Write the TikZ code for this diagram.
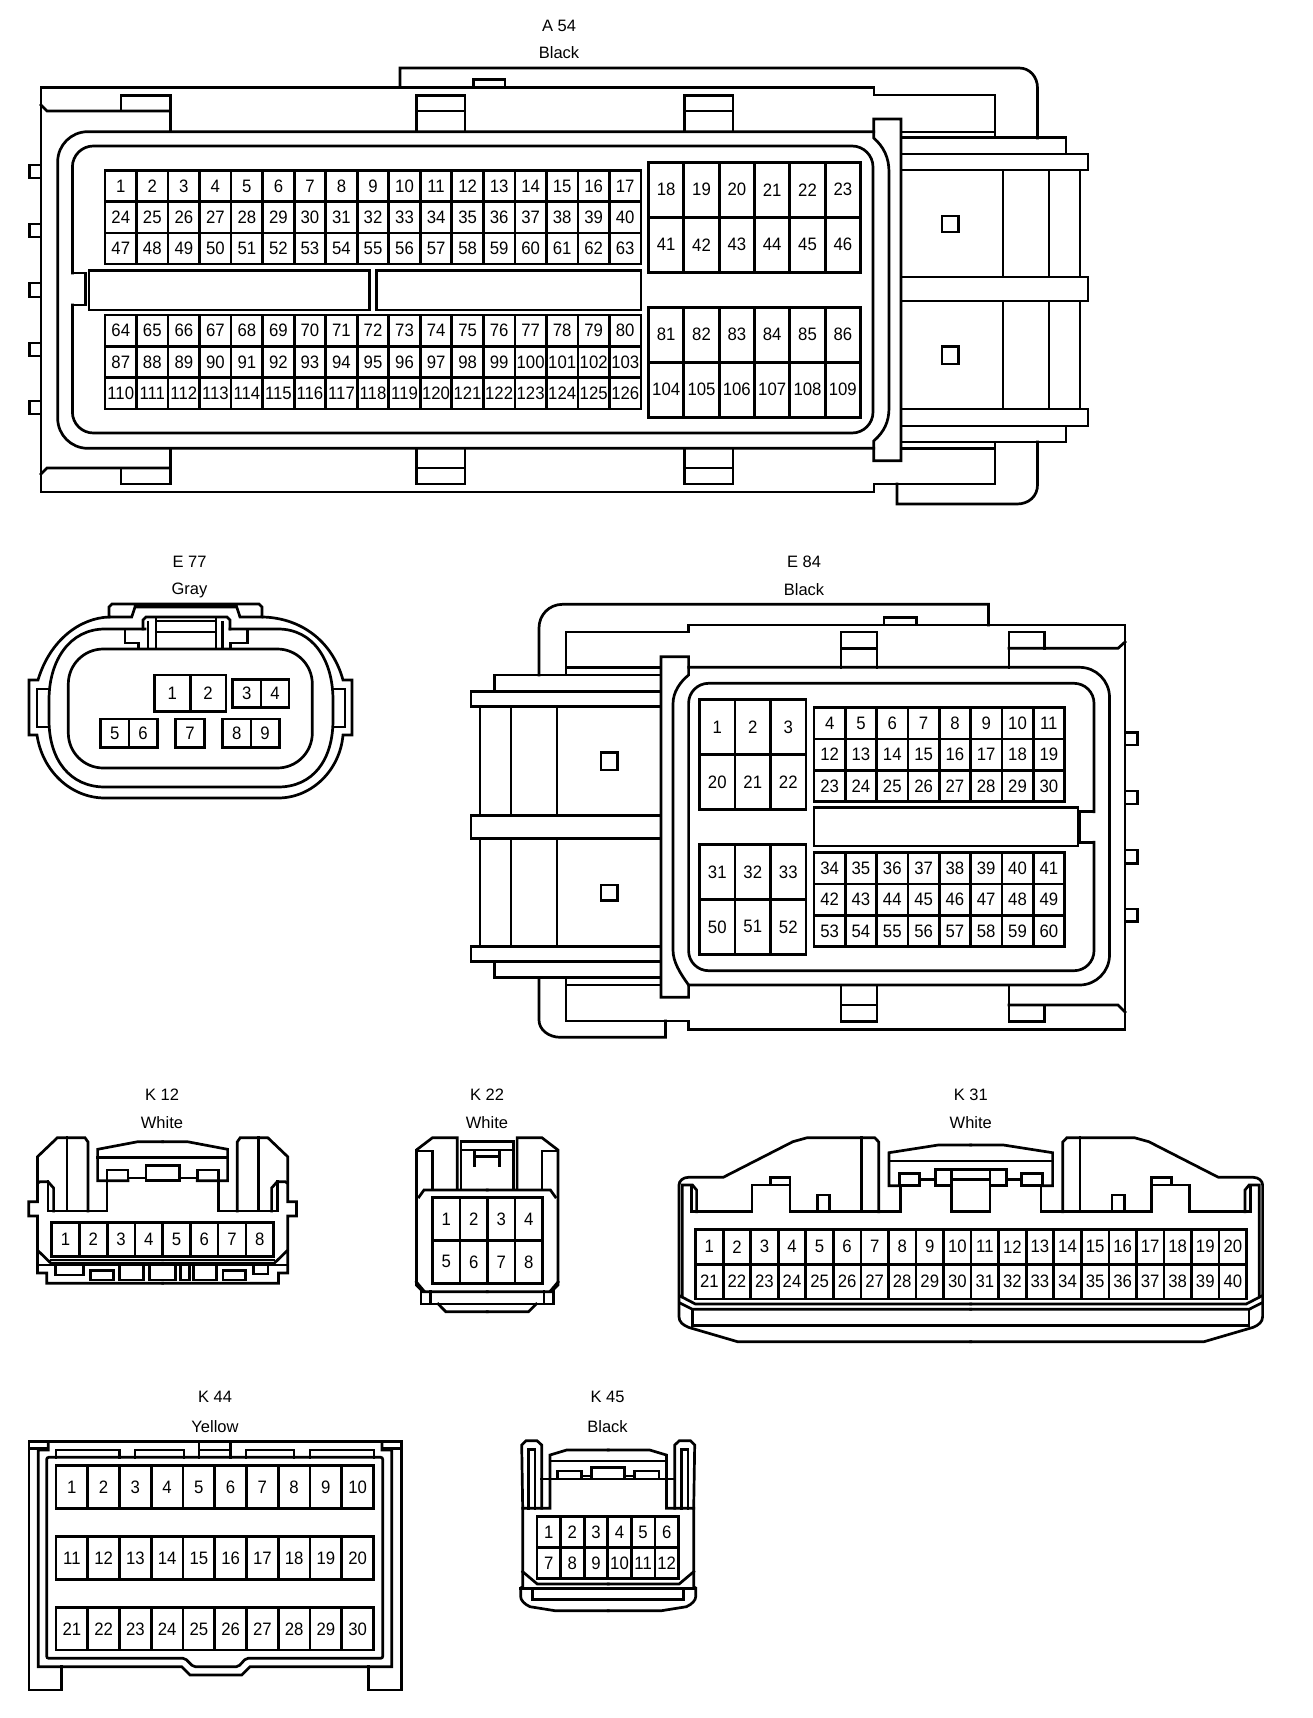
\documentclass[tikz,border=0pt]{standalone}
\usepackage{fontspec}
\setmainfont{Liberation Sans}
\newfontfamily\pinfont[FakeStretch=0.93]{Liberation Sans}
\tikzset{
  ln/.style={line width=2.7pt,line join=miter,line cap=rect,black},
  pin/.style={inner sep=0pt,font=\pinfont\fontsize{18}{18}\selectfont,text=black},
  lbl/.style={inner sep=0pt,font=\fontsize{16.5}{17}\selectfont,text=black}
}
\newcommand{\pinblock}[8]{%
  \draw[ln] (#2,#3) rectangle (#4,#5);
  \pgfmathsetmacro\cw{(#4-#2)/#6}
  \pgfmathsetmacro\ch{(#5-#3)/#7}
  \foreach \i in {1,...,#6}{\draw[ln] ({#2+\i*\cw},#3) -- ({#2+\i*\cw},#5);}
  \foreach \i in {1,...,#7}{\draw[ln] (#2,{#3+\i*\ch}) -- (#4,{#3+\i*\ch});}
  \foreach \s [count=\r from 0] in {#8}{
    \foreach \c in {1,...,#6}{
      \pgfmathtruncatemacro\n{\s+\c-1}
      \node[pin,name=#1-\n] at ({#2+(\c-.5)*\cw},{#3+(\r+.5)*\ch}) {\n};
    }
  }
}
\newcommand{\mirrored}[2]{#2\begin{scope}[shift={(#1,0)},xscale=-1]#2\end{scope}}
\newcommand{\boxes}[1]{\foreach \a/\b/\c/\d in {#1}{\draw[ln] (\a,\b) rectangle (\c,\d);}}
\begin{document}
\begin{tikzpicture}[x=1pt,y=-1pt]
\useasboundingbox (0,0) rectangle (1312,1718);
% ---------- A54
\node[lbl] (a54t) at (559,25.7) {A 54};
\node[lbl] (a54c) at (559,52.7) {Black};
\draw[ln] (400,87) -- (400,68) -- (1019,68) .. controls (1030,68) and (1037.5,77) .. (1037.5,88) -- (1037.5,138);
\draw[ln] (473.5,87) -- (473.5,79.3) -- (505,79.3) -- (505,87);
\draw[ln] (995,137) -- (995,95) -- (874,95) -- (874,87.3) -- (41,87.3) -- (41,492) -- (874,492) -- (874,484) -- (995,484) -- (995,442);
\draw[ln] (41,105) -- (47,111) -- (170.5,111);
\draw[ln] (41,474) -- (47,468) -- (170.5,468);
\draw[ln] (121,111) -- (121,95.7) -- (170.5,95.7) -- (170.5,131.7);
\draw[ln] (121,468) -- (121,484) -- (170.5,484) -- (170.5,448.3);
\foreach \xa/\xb in {416.7/465,684.6/733}{
  \draw[ln] (\xa,131.7) -- (\xa,95.7) -- (\xb,95.7) -- (\xb,131.7);
  \draw[ln] (\xa,111) -- (\xb,111);
  \draw[ln] (\xa,448.3) -- (\xa,484) -- (\xb,484) -- (\xb,448.3);
  \draw[ln] (\xa,468) -- (\xb,468);
}
\draw[ln,rounded corners=30pt] (873.7,131.7) -- (57.7,131.7) -- (57.7,448.3) -- (873.7,448.3);
\draw[ln,rounded corners=21pt] (72.4,273) -- (72.4,146) -- (873,146) -- (873,433) -- (72.4,433) -- (72.4,305);
\draw[ln] (72.4,273) -- (85.4,273) -- (85.4,305) -- (72.4,305);
\draw[ln] (901,119) -- (873.7,119) -- (873.7,138) .. controls (884,147) and (889,158) .. (889,172) -- (889,408) .. controls (889,422) and (884,432) .. (873.7,441) -- (873.7,460.7) -- (901,460.7) -- cycle;
\draw[ln] (901,132) -- (995,132);
\draw[ln] (901,448.3) -- (995,448.3);
\draw[ln] (901,137.3) -- (1066,137.3) -- (1066,154);
\draw[ln] (901,442) -- (1066,442) -- (1066,426);
\foreach \ya/\yb in {154/170,277/301,409/426}{\draw[ln] (901,\ya) -- (1088,\ya) -- (1088,\yb) -- (901,\yb);}
\draw[ln] (1037.5,442) -- (1037.5,485) .. controls (1037.5,496) and (1029,504) .. (1017,504) -- (897,504) -- (897,484);
\foreach \x in {1003,1049,1080}{\draw[ln] (\x,170) -- (\x,277);\draw[ln] (\x,301) -- (\x,409);}
\boxes{942/216/958.5/232,942/346.7/958.5/364,29.5/165/41/178,29.5/224/41/237,29.5/283/41/297,29.5/343/41/356,29.5/401/41/414,89/270.7/369.5/310,376.7/270.7/641/310}
\pinblock{a54}{105}{170.7}{641}{264}{17}{3}{1,24,47}
\pinblock{a54}{648.5}{162.3}{860.5}{272.3}{6}{2}{18,41}
\pinblock{a54}{105}{315}{641}{409}{17}{3}{64,87,110}
\pinblock{a54}{648.5}{307.3}{860.5}{417.3}{6}{2}{81,104}
% ---------- E77
\node[lbl] (e77t) at (189.5,562) {E 77};
\node[lbl] (e77c) at (189.5,590) {Gray};
\draw[ln] (109,617) .. controls (80,618) and (50,640) .. (38,680) -- (29,680) -- (29,735) -- (37,735) .. controls (42,770) and (70,798) .. (105,798) -- (278,798) .. controls (312,798) and (340,770) .. (343,735) -- (352,735) -- (352,680) -- (343,680) .. controls (332,640) and (300,618) .. (263,617);
\draw[ln] (109,617) -- (109,607) -- (112,604) -- (259,604) -- (262,607) -- (262,617) -- (240,617) -- (236.7,607) -- (135,607) -- (131.7,617) -- cycle;
\draw[ln] (145,629) -- (105,629) .. controls (70,629) and (49,660) .. (49,700) -- (49,720) .. controls (49,760) and (70,787) .. (105,787) -- (278,787) .. controls (313,787) and (333,760) .. (333,720) -- (333,700) .. controls (333,660) and (313,629) .. (278,629) -- (230,629);
\draw[ln,rounded corners=35pt] (68.3,649) rectangle (312.3,768);
\draw[ln] (49,689) -- (37,689) -- (37,727) -- (49,727);
\draw[ln] (333,689) -- (345,689) -- (345,727) -- (333,727);
\draw[ln] (143,629) -- (143,620) -- (146,617) -- (227,617) -- (230,620) -- (230,629);
\draw[ln] (156,617) -- (156,649);\draw[ln] (216,617) -- (216,649);
\draw[ln] (148,622) -- (148,649);\draw[ln] (222.7,622) -- (222.7,649);
\draw[ln] (156,621) -- (216,621);\draw[ln] (156,632) -- (216,632);
\draw[ln] (125,631) -- (125,643) -- (138.3,643) -- (138.3,649);
\draw[ln] (247.7,631) -- (247.7,643) -- (230.7,643) -- (230.7,649);
\pinblock{e77}{154.3}{675}{226}{711.7}{2}{1}{1}
\pinblock{e77}{232.7}{679.3}{289}{707.7}{2}{1}{3}
\pinblock{e77}{100.7}{719}{157.3}{747.7}{2}{1}{5}
\pinblock{e77}{175.7}{719}{204.3}{747.7}{1}{1}{7}
\pinblock{e77}{222.7}{719}{279.3}{747.7}{2}{1}{8}
% ---------- E84
\node[lbl] (e84t) at (804,562) {E 84};
\node[lbl] (e84c) at (804,590) {Black};
\draw[ln] (988.5,625) -- (988.5,604.3) -- (562.7,604.3) .. controls (549,604.3) and (539,615) .. (539,628) -- (539,675);
\draw[ln] (884,625) -- (884,617.3) -- (916.6,617.3) -- (916.6,625);
\draw[ln] (566,675) -- (566,632) -- (688.6,632) -- (688.6,625) -- (1125,625) -- (1125,1029.3) -- (688.6,1029.3) -- (688.6,1021) -- (566,1021) -- (566,979.3);
\draw[ln] (1009,648.3) -- (1118,648.3) -- (1125,642);
\draw[ln] (1009,1005) -- (1118,1005) -- (1125,1012);
\draw[ln] (841,667.3) -- (841,632) -- (877,632) -- (877,667.3);\draw[ln] (841,648.3) -- (877,648.3);
\draw[ln] (841,985) -- (841,1021.7) -- (877,1021.7) -- (877,985);\draw[ln] (841,1005) -- (877,1005);
\draw[ln] (1009,667.3) -- (1009,632) -- (1044.7,632) -- (1044.7,648.3);
\draw[ln] (1009,985) -- (1009,1021.7) -- (1044.7,1021.7) -- (1044.7,1005);
\draw[ln] (539,979) -- (539,1020) .. controls (539,1030) and (549,1037.3) .. (560.4,1037.3) -- (665.4,1037.3) -- (665.4,1021);
\draw[ln,rounded corners=30pt] (688.6,667.3) -- (1109.5,667.3) -- (1109.5,985) -- (688.6,985);
\draw[ln,rounded corners=20pt] (1094,811.7) -- (1094,683.3) -- (688.6,683.3) -- (688.6,970.7) -- (1094,970.7) -- (1094,842.3);
\draw[ln] (1094,811.7) -- (1079.5,811.7) -- (1079.5,842.3) -- (1094,842.3);
\draw[ln] (661,656.7) -- (688.6,656.7) -- (688.6,675) .. controls (680,682) and (673,692) .. (673,704) -- (673,950) .. controls (673,962) and (680,973) .. (688.6,985) -- (688.6,997.3) -- (661,997.3) -- cycle;
\draw[ln] (566,667.3) -- (661,667.3);\draw[ln] (566,985) -- (661,985);
\draw[ln] (661,675) -- (494.8,675) -- (494.8,691.7);
\draw[ln] (661,977.3) -- (494.8,977.3) -- (494.8,961.7);
\foreach \ya/\yb in {691.7/706.7,815.7/838.3,946.7/961.7}{\draw[ln] (661,\ya) -- (471,\ya) -- (471,\yb) -- (661,\yb);}
\foreach \x in {480,511,557}{\draw[ln] (\x,706.7) -- (\x,815.7);\draw[ln] (\x,838.3) -- (\x,946.7);}
\boxes{601/752.7/617.5/770,601/885/617.5/900.7,1125/732.3/1137.7/745,1125/791/1137.7/804,1125/850/1137.7/863.3,1125/909/1137.7/921.7,814/807.3/1078/846}
\pinblock{e84}{699.5}{699.3}{806}{809.3}{3}{2}{1,20}
\pinblock{e84}{814}{707.7}{1064.5}{801.7}{8}{3}{4,12,23}
\pinblock{e84}{699.5}{844.3}{806}{954.3}{3}{2}{31,50}
\pinblock{e84}{814}{852.7}{1064.5}{946.7}{8}{3}{34,42,53}
% ---------- K12
\node[lbl] (k12t) at (162,1095) {K 12};
\node[lbl] (k12c) at (162,1123) {White};
\mirrored{325.2}{
  \draw[ln] (88,1211) -- (88,1142) -- (85,1137.7) -- (57.4,1137.7) -- (37.5,1156.7) -- (37.5,1201.7) -- (28.7,1201.7) -- (28.7,1216) -- (37.5,1216) -- (37.5,1273) -- (46.7,1273) -- (46.7,1283.3) -- (162.6,1283.3);
  \draw[ln] (67,1137.7) -- (67,1211);
  \draw[ln] (38,1183) -- (40,1181.7) -- (48,1181.7) -- (53.6,1188) -- (53.6,1211);
  \draw[ln] (48,1181.7) -- (48,1211) -- (107,1211) -- (107,1170) -- (128,1170) -- (128,1180.7);
  \draw[ln] (162.6,1141.7) -- (137.8,1141.7) -- (97.6,1149.3) -- (97.6,1180.7) -- (128,1180.7);
  \draw[ln] (146,1180.7) -- (162.6,1180.7);
  \draw[ln] (97.6,1157.7) -- (162.6,1157.7);
  \draw[ln] (146,1180.7) -- (146,1165.3) -- (162.6,1165.3);
  \draw[ln] (128,1178) -- (146,1178);
  \draw[ln] (38,1250.7) -- (51,1263.3) -- (162.6,1263.3);
  \draw[ln] (51.7,1260) -- (162.6,1260);
  \draw[ln] (37.5,1265) -- (162.6,1265);
}
\draw[ln] (55.5,1266) -- (55.5,1275) -- (83.4,1275) -- (83.4,1266);
\draw[ln] (119.8,1266) -- (119.8,1280) -- (143.5,1280) -- (143.5,1266);
\draw[ln] (149.3,1266) -- (149.3,1280) -- (175.3,1280) -- (175.3,1266);
\draw[ln] (180.6,1266) -- (180.6,1280) -- (189.4,1280) -- (189.4,1266);
\draw[ln] (193.3,1266) -- (193.3,1280) -- (216.2,1280) -- (216.2,1266);
\draw[ln] (253.3,1266) -- (253.3,1274) -- (267.9,1274) -- (267.9,1266);
\boxes{90.7/1270.7/113.7/1280,223/1270.7/245.7/1280}
\pinblock{k12}{51.7}{1222.3}{273.6}{1256.7}{8}{1}{1}
% ---------- K22
\node[lbl] (k22t) at (487,1095) {K 22};
\node[lbl] (k22c) at (487,1123) {White};
\mirrored{974.4}{
  \draw[ln] (457.3,1189) -- (457.3,1137.7) -- (432.5,1137.7) -- (416.4,1150) -- (416.4,1285) -- (423,1291.7) -- (487.2,1291.7);
  \draw[ln] (416.4,1151) -- (432.5,1151) -- (432.5,1189);
  \draw[ln] (419,1197) -- (424,1190) -- (487.2,1190);
  \draw[ln] (416.4,1282) -- (424,1291);
  \draw[ln] (461,1189) -- (461,1141.7) -- (487.2,1141.7);
  \draw[ln] (461,1150) -- (487.2,1150);
  \draw[ln] (474.6,1151) -- (474.6,1166);
  \draw[ln] (474.6,1156.7) -- (487.2,1156.7);
  \draw[ln] (421,1291.7) -- (421,1304) -- (487.2,1304);
  \draw[ln] (430.5,1291.7) -- (430.5,1304);
  \draw[ln] (438.2,1304) -- (445.8,1311.7) -- (487.2,1311.7);
}
\pinblock{k22}{432.5}{1197.3}{542.4}{1283.3}{4}{2}{1,5}
% ---------- K31
\node[lbl] (k31t) at (970.8,1095) {K 31};
\node[lbl] (k31c) at (970.8,1123) {White};
\mirrored{1941.6}{
  \draw[ln] (970.8,1341.7) -- (737.6,1341.7) -- (688.4,1327.3) .. controls (683,1325) and (679,1322) .. (679,1316.7) -- (679,1185) .. controls (679,1181) and (683,1177.3) .. (688.4,1177.3) -- (723.2,1177.3) -- (792.8,1141.7) -- (807.2,1137.7) -- (874.7,1137.7) -- (878.8,1142) -- (878.8,1211.7);
  \draw[ln] (861.6,1137.7) -- (861.6,1211.7);
  \draw[ln] (682.3,1296.7) -- (682.3,1185) -- (692.5,1185) -- (696.6,1190) -- (696.6,1211.7);
  \draw[ln] (691.3,1187) -- (691.3,1211.7) -- (751.9,1211.7) -- (751.9,1185) -- (790,1185) -- (790,1211.7) -- (900.5,1211.7) -- (900.5,1185);
  \draw[ln] (770.3,1185) -- (770.3,1177.3) -- (790,1177.3) -- (790,1185);
  \draw[ln] (817.4,1211.7) -- (817.4,1195) -- (829.7,1195) -- (829.7,1211.7);
  \draw[ln] (970.8,1145) -- (938.2,1145) -- (889,1152.7) -- (889,1185.7) -- (899.3,1185.7);
  \draw[ln] (899.3,1185.7) -- (919.8,1185.7);
  \draw[ln] (935.4,1185.7) -- (951.7,1185.7);
  \draw[ln] (889,1161) -- (970.8,1161);
  \draw[ln] (899.3,1185.7) -- (899.3,1173.3) -- (919.8,1173.3) -- (919.8,1185.7);
  \draw[ln] (919.8,1179.3) -- (935.4,1179.3);
  \draw[ln] (935.4,1185.7) -- (935.4,1169.3) -- (970.8,1169.3);
  \draw[ln] (951.7,1169.3) -- (951.7,1211.7) -- (970.8,1211.7);
  \draw[ln] (951.7,1179.3) -- (970.8,1179.3);
  \draw[ln] (680,1296) -- (695.4,1304) -- (970.8,1304);
  \draw[ln] (680,1303) -- (692.5,1309.3) -- (970.8,1309.3);
  \draw[ln] (692.5,1309.3) -- (692.5,1325.7) -- (970.8,1325.7);
}
\pinblock{k31}{695.6}{1229.3}{1246.6}{1299}{20}{2}{1,21}
% ---------- K44
\node[lbl] (k44t) at (215,1397) {K 44};
\node[lbl] (k44c) at (215,1427) {Yellow};
\draw[ln] (61.7,1666.7) -- (61.7,1690) -- (29,1690) -- (29,1441.7) -- (401.7,1441.7) -- (401.7,1690) -- (368.3,1690) -- (368.3,1666.7);
\draw[ln] (48.3,1442) -- (48.3,1450) -- (38.3,1450) -- (38.3,1666.7) -- (181.7,1666.7) -- (190,1675) -- (241.7,1675) -- (250,1666.7) -- (391.7,1666.7) -- (391.7,1450) -- (382,1450) -- (382,1442);
\draw[ln] (29,1448.3) -- (46.7,1448.3);\draw[ln] (384,1448.3) -- (401.7,1448.3);
\draw[ln,rounded corners=2pt] (46.7,1457.3) -- (382.7,1457.3) -- (382.7,1658.3) -- (246,1658.3) -- (238.3,1666.7) -- (193.3,1666.7) -- (185,1658.3) -- (46.7,1658.3) -- cycle;
\foreach \xa/\xb in {56/119.3,135/184,246/294,310/374}{\draw[ln] (\xa,1457.3) -- (\xa,1450) -- (\xb,1450) -- (\xb,1457.3);}
\draw[ln] (199,1441.7) -- (199,1457.3);\draw[ln] (230.7,1441.7) -- (230.7,1457.3);\draw[ln] (199,1450) -- (230.7,1450);
\pinblock{k44}{56}{1465.7}{373.5}{1508.3}{10}{1}{1}
\pinblock{k44}{56}{1536.7}{373.5}{1579.3}{10}{1}{11}
\pinblock{k44}{56}{1607.7}{373.5}{1650}{10}{1}{21}
% ---------- K45
\node[lbl] (k45t) at (607.5,1397) {K 45};
\node[lbl] (k45c) at (607.5,1427) {Black};
\mirrored{1216.4}{
  \draw[ln] (608.2,1610.7) -- (555,1610.7) -- (530,1606.7) .. controls (524,1604) and (520.7,1600) .. (520.7,1596.7) -- (520.7,1588) -- (522.7,1586.7) -- (522.7,1508.3) -- (550,1508.3) -- (550,1455) -- (566.7,1450) -- (608.2,1450);
  \draw[ln] (522.7,1508.3) -- (521.7,1445) -- (526,1440.7) -- (537,1440.7) -- (541.7,1445) -- (541.7,1508.3);
  \draw[ln] (528.3,1508.3) -- (528.3,1449.3) -- (535,1449.3) -- (535,1508.3);
  \draw[ln] (550,1461) -- (608.2,1461);
  \draw[ln] (541.7,1479) -- (608.2,1479);
  \draw[ln] (557.3,1479) -- (557.3,1471) -- (581.7,1471) -- (581.7,1479);
  \draw[ln] (591.7,1479) -- (591.7,1467.7) -- (608.2,1467.7);
  \draw[ln] (581.7,1476) -- (591.7,1476);
  \draw[ln] (522.7,1571.7) -- (537.3,1584) -- (608.2,1584);
  \draw[ln] (520.7,1588.3) -- (608.2,1588.3);
  \draw[ln] (532.7,1588.3) -- (532.7,1599.3) -- (608.2,1599.3);
}
\pinblock{k45}{537}{1516.7}{678.5}{1578.3}{6}{2}{1,7}
\end{tikzpicture}
\end{document}
